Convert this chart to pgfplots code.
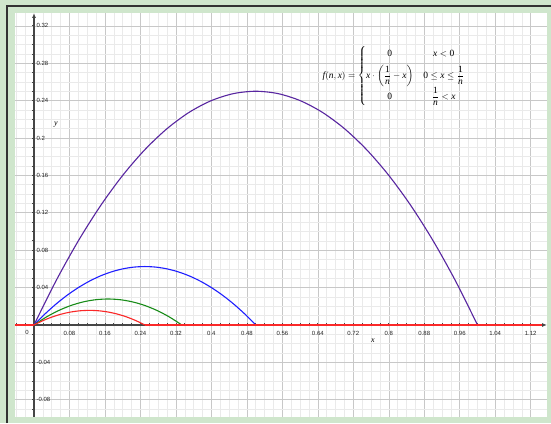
\documentclass[border=0pt]{standalone}
\usepackage{amsmath}
\usepackage{fontspec}
\setmainfont{Liberation Serif}
\setsansfont{Liberation Sans}
\usepackage{pgfplots}
\pgfplotsset{compat=1.18}
\usetikzlibrary{arrows.meta}

\definecolor{bggreen}{RGB}{207,230,204}
\definecolor{framegray}{RGB}{50,50,50}
\definecolor{majorgrid}{RGB}{200,200,200}
\definecolor{minorgrid}{RGB}{234,234,234}
\definecolor{axisgray}{RGB}{70,70,70}
\definecolor{cpurple}{RGB}{88,38,160}
\definecolor{cblue}{RGB}{30,30,255}
\definecolor{cgreen}{RGB}{25,140,25}
\definecolor{cred}{RGB}{250,40,40}

% letters and digits in the text face inside formulas
\newcommand{\vi}[1]{\textit{#1}}
\newcommand{\vu}[1]{\textup{#1}}

\begin{document}
\begin{tikzpicture}[x=1pt,y=1pt]
\useasboundingbox (0,0) rectangle (551,423);
% page background and frame
\fill[bggreen] (0,0) rectangle (551,423);
\draw[framegray,line width=1.6pt] (7,0) -- (7,417) -- (551,417);

\begin{axis}[
  at={(15pt,6.5pt)}, anchor=south west,
  scale only axis, width=532pt, height=403.5pt,
  xmin=-0.0428, xmax=1.1567, ymin=-0.0979, ymax=0.3337,
  axis background/.style={fill=white},
  axis lines=middle,
  axis line style={axisgray, line width=1.4pt, -{Latex[length=5pt,width=4pt]}},
  xtick distance=0.08, ytick distance=0.04,
  minor x tick num=3, minor y tick num=3,
  grid=both,
  major grid style={majorgrid, line width=0.6pt},
  minor grid style={minorgrid, line width=0.5pt},
  tick align=center,
  major tick length=3pt, minor tick length=3pt,
  every tick/.style={axisgray, line width=0.7pt},
  /pgf/number format/assume math mode=true,
  /pgf/number format/fixed,
  /pgf/number format/precision=2,
  ticklabel style={font=\sffamily\fontsize{6}{7}\selectfont, text=black!85},
  xticklabel style={anchor=north, yshift=-1pt},
  yticklabel style={anchor=west, xshift=0.5pt},
  clip=false,
]
% f(n,x) for n = 1
\addplot[cpurple, line width=1.1pt, smooth] coordinates {
  (0,0) (0.05,0.0475) (0.1,0.09) (0.15,0.1275) (0.2,0.16) (0.25,0.1875)
  (0.3,0.21) (0.35,0.2275) (0.4,0.24) (0.45,0.2475) (0.5,0.25)
  (0.55,0.2475) (0.6,0.24) (0.65,0.2275) (0.7,0.21) (0.75,0.1875)
  (0.8,0.16) (0.85,0.1275) (0.9,0.09) (0.95,0.0475) (1,0)
};
% n = 2
\addplot[cblue, line width=1.1pt, smooth] coordinates {
  (0,0) (0.025,0.011875) (0.05,0.0225) (0.075,0.031875) (0.1,0.04)
  (0.125,0.046875) (0.15,0.0525) (0.175,0.056875) (0.2,0.06)
  (0.225,0.061875) (0.25,0.0625) (0.275,0.061875) (0.3,0.06)
  (0.325,0.056875) (0.35,0.0525) (0.375,0.046875) (0.4,0.04)
  (0.425,0.031875) (0.45,0.0225) (0.475,0.011875) (0.5,0)
};
% n = 3
\addplot[cgreen, line width=1.1pt, smooth] coordinates {
  (0,0) (0.027778,0.008488) (0.055556,0.015432) (0.083333,0.020833)
  (0.111111,0.024691) (0.138889,0.027006) (0.166667,0.027778)
  (0.194444,0.027006) (0.222222,0.024691) (0.25,0.020833)
  (0.277778,0.015432) (0.305556,0.008488) (0.333333,0)
};
% n = 4, including the zero branches on either side
\addplot[cred, line width=1.1pt] coordinates {(-0.0428,0) (0,0)};
\addplot[cred, line width=1.1pt, smooth] coordinates {
  (0,0) (0.020833,0.004774) (0.041667,0.008681) (0.0625,0.011719)
  (0.083333,0.013889) (0.104167,0.015191) (0.125,0.015625)
  (0.145833,0.015191) (0.166667,0.013889) (0.1875,0.011719)
  (0.208333,0.008681) (0.229167,0.004774) (0.25,0)
};
\addplot[cred, line width=1.1pt] coordinates {(0.25,0) (1.145,0)};

% labels
\node[font=\sffamily\fontsize{6}{7}\selectfont, text=black!85] at (axis cs:-0.0158,-0.0075) {0};
\node[font=\itshape\fontsize{8}{9}\selectfont] at (axis cs:0.7644,-0.0165) {x};
\node[font=\itshape\fontsize{8}{9}\selectfont] at (axis cs:0.0496,0.2139) {y};
\node[font=\fontsize{9.5}{11}\selectfont] at (axis cs:0.8117,0.2663) {%
  $\vi{f}(\vi{n},\vi{x})=\left\{\renewcommand{\arraystretch}{1.25}\begin{array}{@{}c@{\hspace{10pt}}c@{}}
    \vu{0} & \vi{x}<\vu{0}\\[5pt]
    \vi{x}\cdot\left(\dfrac{\vu{1}}{\vi{n}}-\vi{x}\right) & \vu{0}\le \vi{x}\le\dfrac{\vu{1}}{\vi{n}}\\[5pt]
    \vu{0} & \dfrac{\vu{1}}{\vi{n}}<\vi{x}
  \end{array}\right.$};
\end{axis}
\end{tikzpicture}
\end{document}
